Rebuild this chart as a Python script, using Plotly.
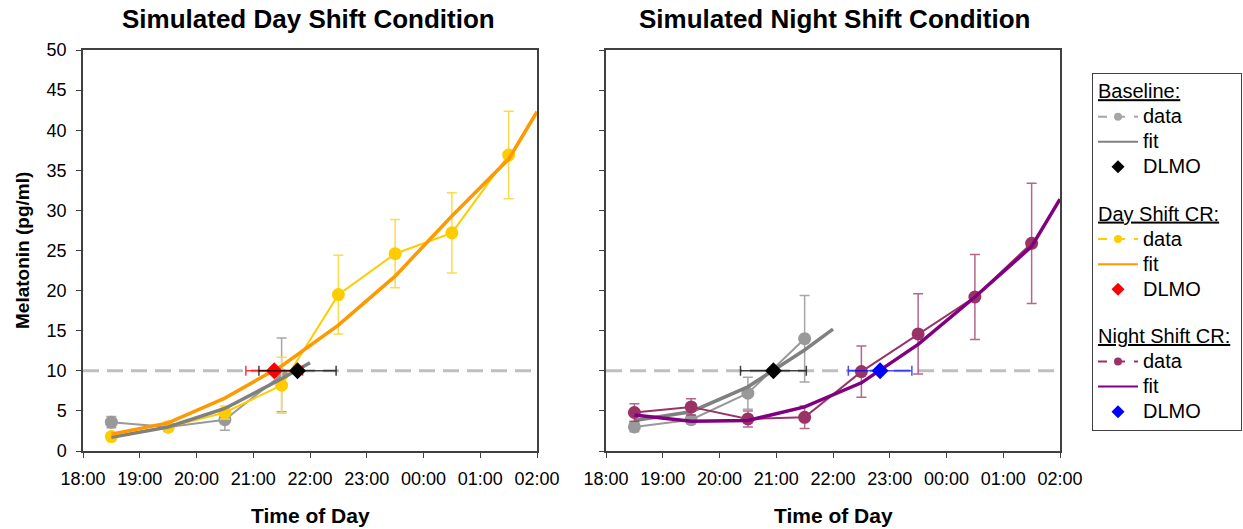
import plotly.graph_objects as go

# ---------------- data (x = hours after 18:00) ----------------
tick_vals = [0, 1, 2, 3, 4, 5, 6, 7, 8]
tick_labels = ["18:00", "19:00", "20:00", "21:00", "22:00", "23:00", "00:00", "01:00", "02:00"]
y_ticks = [0, 5, 10, 15, 20, 25, 30, 35, 40, 45, 50]
threshold = 10

# Day shift panel
base_day_x = [0.5, 1.5, 2.5, 3.5]
base_day_y = [3.6, 3.0, 3.9, 9.5]
base_day_err = [0.7, 0.5, 1.3, 4.6]
base_day_fit_x = [0.5, 1.5, 2.5, 3.5, 4.0]
base_day_fit_y = [1.7, 3.0, 5.3, 9.0, 11.0]
base_day_dlmo_x = [3.78]
base_day_dlmo_err = [0.68]

day_x = [0.5, 1.5, 2.5, 3.5, 4.5, 5.5, 6.5, 7.5]
day_y = [1.8, 3.0, 4.8, 8.2, 19.5, 24.6, 27.2, 36.9]
day_err = [0.4, 0.6, 0.8, 3.5, 4.9, 4.25, 5.0, 5.45]
day_fit_x = [0.5, 1.5, 2.5, 3.5, 4.5, 5.5, 6.5, 7.5, 8.0]
day_fit_y = [2.1, 3.5, 6.6, 10.6, 15.7, 21.8, 29.3, 36.4, 42.3]
day_dlmo_x = [3.37]
day_dlmo_err = [0.5]

# Night shift panel
base_night_x = [0.5, 1.5, 2.5, 3.5]
base_night_y = [3.0, 3.9, 7.2, 14.0]
base_night_err = [0.6, 0.5, 2.0, 5.4]
base_night_fit_x = [0.5, 1.5, 2.5, 3.5, 4.0]
base_night_fit_y = [3.8, 4.9, 8.0, 12.6, 15.2]
base_night_dlmo_x = [2.95]
base_night_dlmo_err = [0.58]

night_x = [0.5, 1.5, 2.5, 3.5, 4.5, 5.5, 6.5, 7.5]
night_y = [4.8, 5.5, 4.0, 4.2, 9.9, 14.6, 19.2, 25.9]
night_err = [1.1, 1.0, 1.0, 1.4, 3.2, 5.0, 5.3, 7.5]
night_fit_x = [0.5, 1.5, 2.5, 3.5, 4.5, 5.5, 6.5, 7.5, 8.0]
night_fit_y = [4.5, 3.7, 3.8, 5.5, 8.5, 13.3, 19.2, 25.5, 31.4]
night_dlmo_x = [4.83]
night_dlmo_err = [0.56]

# ---------------- styles ----------------
FONT = "Liberation Sans, Arial, sans-serif"
GRAY_D = "#999999"
GRAY_L = "#A6A6A6"
GRAY_F = "#808080"
YEL = "#FFCC00"
YEL_E = "#FFD94D"
ORA = "#FF9900"
MAR = "#993366"
MAR_E = "rgba(153,51,102,0.75)"
PUR = "#800080"

fig = go.Figure()


def data_trace(x, y, err, color, ecolor, xa, ya):
    return go.Scatter(x=x, y=y, mode="lines+markers", xaxis=xa, yaxis=ya,
                      line=dict(color=color, width=2),
                      marker=dict(color=color, size=13),
                      error_y=dict(type="data", array=err, color=ecolor, thickness=1.5, width=5),
                      showlegend=False, hoverinfo="skip")


def fit_trace(x, y, color, xa, ya):
    return go.Scatter(x=x, y=y, mode="lines", xaxis=xa, yaxis=ya,
                      line=dict(color=color, width=3.5),
                      showlegend=False, hoverinfo="skip")


def dlmo_trace(x, err, color, ecolor, xa, ya):
    return go.Scatter(x=x, y=[threshold] * len(x), mode="markers", xaxis=xa, yaxis=ya,
                      marker=dict(color=color, size=13, symbol="diamond"),
                      error_x=dict(type="data", array=err, color=ecolor, thickness=1.5, width=5),
                      showlegend=False, hoverinfo="skip")


# left panel
fig.add_trace(data_trace(base_day_x, base_day_y, base_day_err, GRAY_D, GRAY_L, "x", "y"))
fig.add_trace(data_trace(day_x, day_y, day_err, YEL, YEL_E, "x", "y"))
fig.add_trace(fit_trace(base_day_fit_x, base_day_fit_y, GRAY_F, "x", "y"))
fig.add_trace(fit_trace(day_fit_x, day_fit_y, ORA, "x", "y"))
fig.add_trace(dlmo_trace(day_dlmo_x, day_dlmo_err, "#FF0000", "rgba(255,0,0,0.8)", "x", "y"))
fig.add_trace(dlmo_trace(base_day_dlmo_x, base_day_dlmo_err, "#000000", "rgba(0,0,0,0.75)", "x", "y"))

# right panel
fig.add_trace(data_trace(base_night_x, base_night_y, base_night_err, GRAY_D, GRAY_L, "x2", "y2"))
fig.add_trace(fit_trace(base_night_fit_x, base_night_fit_y, GRAY_F, "x2", "y2"))
fig.add_trace(data_trace(night_x, night_y, night_err, MAR, MAR_E, "x2", "y2"))
fig.add_trace(fit_trace(night_fit_x, night_fit_y, PUR, "x2", "y2"))
fig.add_trace(dlmo_trace(base_night_dlmo_x, base_night_dlmo_err, "#000000", "rgba(0,0,0,0.75)", "x2", "y2"))
fig.add_trace(dlmo_trace(night_dlmo_x, night_dlmo_err, "#0000FF", "rgba(0,0,255,0.7)", "x2", "y2"))

# legend proxies
LEG_SPAN = '<span style="font-size:20px">{}</span>'
groups = [
    ("Baseline:", GRAY_L, GRAY_F, "#000000"),
    ("Day Shift CR:", YEL, ORA, "#FF0000"),
    ("Night Shift CR:", MAR, PUR, "#0000FF"),
]
for i, (title, dcol, fcol, mcol) in enumerate(groups):
    g = f"g{i}"
    fig.add_trace(go.Scatter(x=[None], y=[None], mode="lines+markers", name=LEG_SPAN.format("data"),
                             legendgroup=g, legendgrouptitle=dict(
                                 text=LEG_SPAN.format(title),
                                 font=dict(family=FONT, size=17, color="black", lineposition="under")),
                             line=dict(color=dcol, width=2, dash="dash"),
                             marker=dict(color=dcol, size=8)))
    fig.add_trace(go.Scatter(x=[None], y=[None], mode="lines", name=LEG_SPAN.format("fit"), legendgroup=g,
                             line=dict(color=fcol, width=2)))
    fig.add_trace(go.Scatter(x=[None], y=[None], mode="markers", name=LEG_SPAN.format("DLMO"), legendgroup=g,
                             marker=dict(color=mcol, size=10, symbol="diamond")))

W, H = 1243, 529
xd1 = [83 / W, 537 / W]
xd2 = [606 / W, 1060 / W]
yd = [(H - 451) / H, (H - 50) / H]

axis_common = dict(showline=True, linecolor="#404040", linewidth=1.5, mirror=True,
                   ticks="outside", ticklen=5, tickcolor="#404040", tickwidth=1.2,
                   showgrid=False, zeroline=False, automargin=False,
                   tickfont=dict(family=FONT, size=18, color="black"))

fig.update_layout(
    width=W, height=H,
    margin=dict(l=0, r=0, t=0, b=0, autoexpand=False),
    paper_bgcolor="white", plot_bgcolor="white",
    xaxis=dict(domain=xd1, range=[0, 8], tickvals=tick_vals, ticktext=tick_labels,
               anchor="y", ticklabelstandoff=6, **axis_common),
    yaxis=dict(domain=yd, range=[0, 50], tickvals=y_ticks, anchor="x",
               ticklabelstandoff=6, **axis_common),
    xaxis2=dict(domain=xd2, range=[0, 8], tickvals=tick_vals, ticktext=tick_labels,
                anchor="y2", ticklabelstandoff=6, **axis_common),
    yaxis2=dict(domain=yd, range=[0, 50], tickvals=y_ticks, anchor="x2",
                showticklabels=False, **axis_common),
    legend=dict(x=1092 / W, y=(H - 73) / H, xanchor="left", yanchor="top",
                bordercolor="#404040", borderwidth=1, bgcolor="white",
                font=dict(family=FONT, size=17, color="black"),
                traceorder="grouped", tracegroupgap=22, itemwidth=40),
    shapes=[
        dict(type="line", xref="x domain", yref="y", x0=0, x1=1, y0=threshold, y1=threshold,
             line=dict(color="#BFBFBF", width=3, dash="16px,8px"), layer="below"),
        dict(type="line", xref="x2 domain", yref="y2", x0=0, x1=1, y0=threshold, y1=threshold,
             line=dict(color="#BFBFBF", width=3, dash="16px,8px"), layer="below"),
    ],
    annotations=[
        dict(text="<b>Simulated Day Shift Condition</b>", x=308 / W, y=(H - 19) / H,
             xref="paper", yref="paper", showarrow=False, xanchor="center", yanchor="middle",
             font=dict(family=FONT, size=26, color="black")),
        dict(text="<b>Simulated Night Shift Condition</b>", x=834 / W, y=(H - 19) / H,
             xref="paper", yref="paper", showarrow=False, xanchor="center", yanchor="middle",
             font=dict(family=FONT, size=26, color="black")),
        dict(text="<b>Time of Day</b>", x=310 / W, y=(H - 515) / H,
             xref="paper", yref="paper", showarrow=False, xanchor="center", yanchor="middle",
             font=dict(family=FONT, size=21, color="black")),
        dict(text="<b>Time of Day</b>", x=833 / W, y=(H - 515) / H,
             xref="paper", yref="paper", showarrow=False, xanchor="center", yanchor="middle",
             font=dict(family=FONT, size=21, color="black")),
        dict(text="<b>Melatonin (pg/ml)</b>", x=22 / W, y=(H - 251) / H, textangle=-90,
             xref="paper", yref="paper", showarrow=False, xanchor="center", yanchor="middle",
             font=dict(family=FONT, size=19, color="black")),
    ],
)

fig.write_html("out.html")
